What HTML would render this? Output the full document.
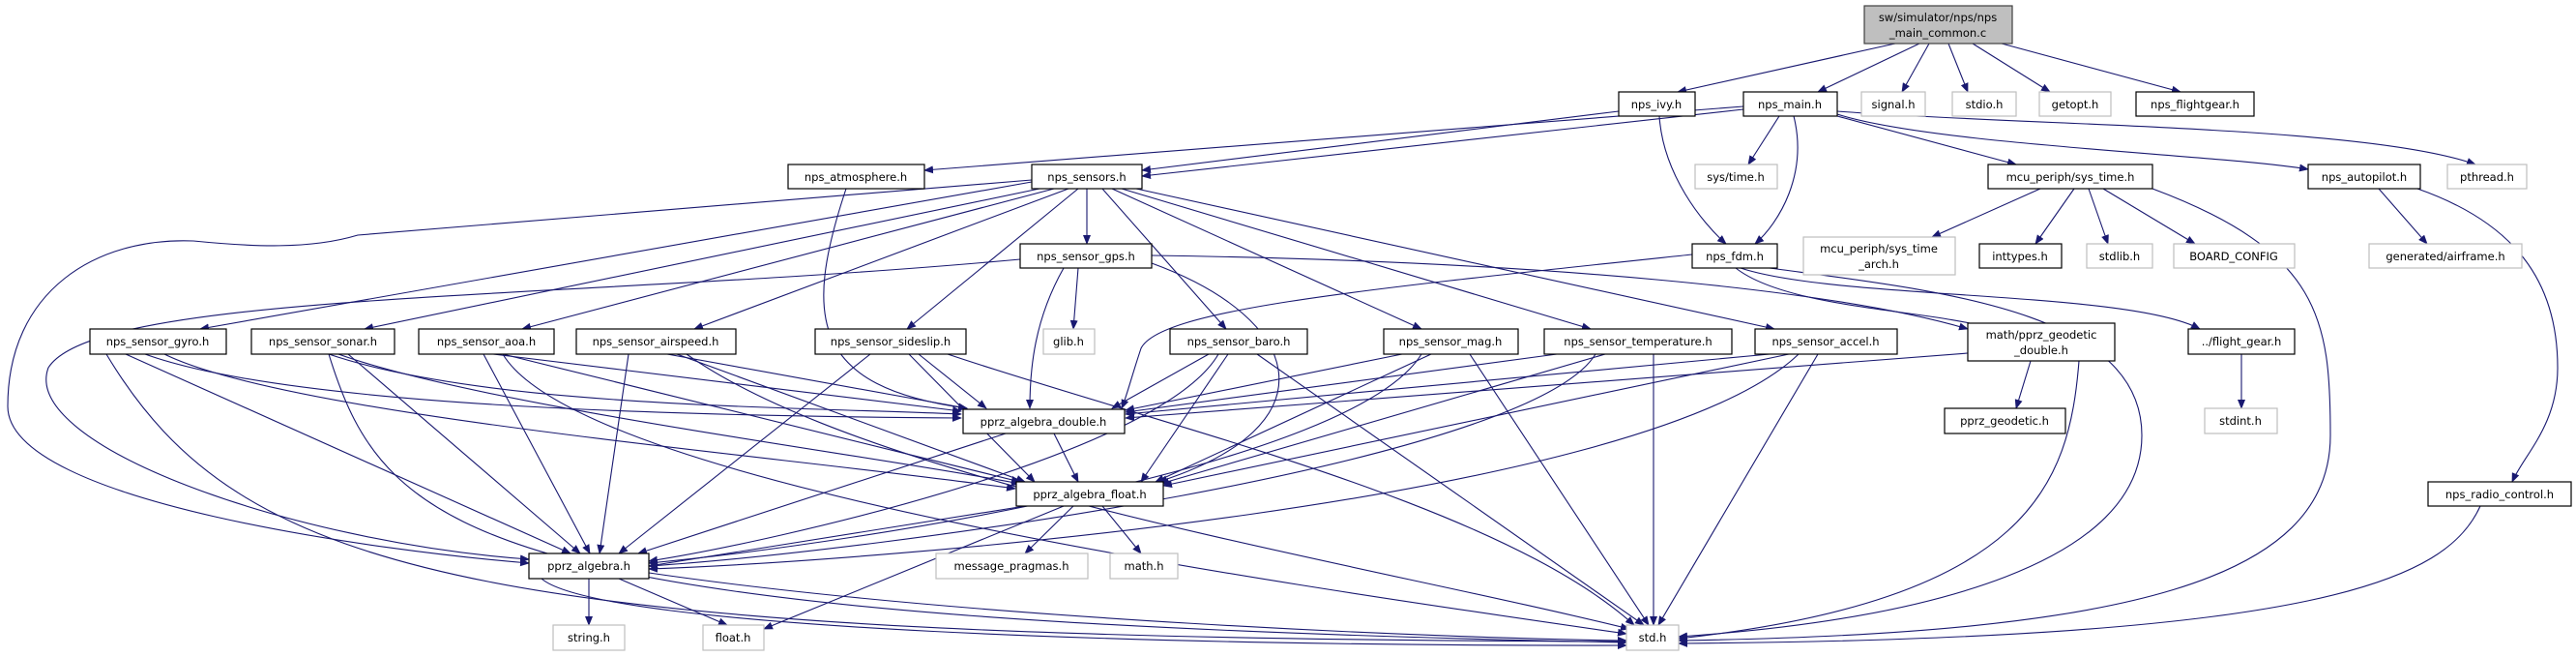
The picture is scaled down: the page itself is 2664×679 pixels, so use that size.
<!DOCTYPE html>
<html><head><meta charset="utf-8"><style>
html,body{margin:0;padding:0;background:#fff;}
svg{display:block;}
text{font-family:"DejaVu Sans","Liberation Sans",sans-serif;font-size:11.5px;fill:#000;}
.n{fill:#fff;stroke:#000;stroke-width:1.2;}
.g{fill:#fff;stroke:#bfbfbf;stroke-width:1.2;}
.r{fill:#bfbfbf;stroke:#404040;stroke-width:1.2;}
.e path{fill:none;stroke:#191970;stroke-width:1.1;}
</style></head><body>
<svg width="2664" height="679" viewBox="0 0 2664 679" xmlns="http://www.w3.org/2000/svg">
<defs><marker id="a" markerWidth="10" markerHeight="8" refX="9" refY="4" orient="auto" markerUnits="userSpaceOnUse"><path d="M0,0 L10,4 L0,8 z" fill="#191970"/></marker></defs>
<g class="e" marker-end="url(#a)">
<path d="M1960,45 L1735,95" marker-end="url(#a)"/>
<path d="M1985,45 L1880,95" marker-end="url(#a)"/>
<path d="M1995,45 L1967,95" marker-end="url(#a)"/>
<path d="M2015,45 L2035,95" marker-end="url(#a)"/>
<path d="M2040,45 L2120,95" marker-end="url(#a)"/>
<path d="M2070,45 L2255,95" marker-end="url(#a)"/>
<path d="M1674,115 L1181,176" marker-end="url(#a)"/>
<path d="M1716,120 C1720,180 1760,230 1785,252" marker-end="url(#a)"/>
<path d="M1803,110 L956,176" marker-end="url(#a)"/>
<path d="M1803,113 L1181,182" marker-end="url(#a)"/>
<path d="M1840,120 L1808,170" marker-end="url(#a)"/>
<path d="M1855,120 C1870,180 1840,230 1815,252" marker-end="url(#a)"/>
<path d="M1900,120 L2085,170" marker-end="url(#a)"/>
<path d="M1900,118 C2000,150 2300,160 2387,175" marker-end="url(#a)"/>
<path d="M1900,115 C2100,130 2450,130 2560,170" marker-end="url(#a)"/>
<path d="M875,195 C830,330 840,400 1000,422" marker-end="url(#a)"/>
<path d="M1124,195 L1124,252" marker-end="url(#a)"/>
<path d="M1067,188 L207,340" marker-end="url(#a)"/>
<path d="M1075,195 L377,340" marker-end="url(#a)"/>
<path d="M1090,195 L540,340" marker-end="url(#a)"/>
<path d="M1105,195 L718,340" marker-end="url(#a)"/>
<path d="M1115,195 L938,340" marker-end="url(#a)"/>
<path d="M1140,195 L1268,340" marker-end="url(#a)"/>
<path d="M1150,195 L1470,340" marker-end="url(#a)"/>
<path d="M1160,195 L1645,340" marker-end="url(#a)"/>
<path d="M1175,195 L1835,340" marker-end="url(#a)"/>
<path d="M1067,186 L370,243 C320,258 260,255 200,249 C100,245 8,300 8,420 C8,520 400,570 547,582" marker-end="url(#a)"/>
<path d="M1055,268 C600,310 100,300 50,380 C20,460 300,560 547,578" marker-end="url(#a)"/>
<path d="M1115,277 L1110,340" marker-end="url(#a)"/>
<path d="M1100,277 C1070,330 1065,380 1065,422" marker-end="url(#a)"/>
<path d="M1191,272 C1350,330 1380,440 1198,498" marker-end="url(#a)"/>
<path d="M1191,264 C1600,270 1900,300 2035,340" marker-end="url(#a)"/>
<path d="M1750,263 C1400,300 1200,320 1180,360 C1170,390 1165,410 1160,422" marker-end="url(#a)"/>
<path d="M1795,277 C1850,320 2000,320 2060,340" marker-end="url(#a)"/>
<path d="M1800,277 C1900,310 2200,300 2275,340" marker-end="url(#a)"/>
<path d="M1830,277 C2000,300 2215,320 2215,450 C2215,580 2000,640 1736,658" marker-end="url(#a)"/>
<path d="M2110,195 L1998,245" marker-end="url(#a)"/>
<path d="M2145,195 L2105,252" marker-end="url(#a)"/>
<path d="M2160,195 L2180,252" marker-end="url(#a)"/>
<path d="M2175,195 L2270,252" marker-end="url(#a)"/>
<path d="M2226,195 C2400,260 2410,330 2410,450 C2410,600 2200,655 1736,662" marker-end="url(#a)"/>
<path d="M2460,195 L2510,252" marker-end="url(#a)"/>
<path d="M2500,195 C2600,230 2645,290 2645,380 C2645,440 2610,470 2598,498" marker-end="url(#a)"/>
<path d="M2565,523 C2530,600 2400,660 1736,665" marker-end="url(#a)"/>
<path d="M2100,373 L2085,422" marker-end="url(#a)"/>
<path d="M2035,365 L1164,432" marker-end="url(#a)"/>
<path d="M2150,373 C2140,500 2100,620 1736,660" marker-end="url(#a)"/>
<path d="M2318,366 L2318,422" marker-end="url(#a)"/>
<path d="M150,366 C300,420 700,430 994,432" marker-end="url(#a)"/>
<path d="M170,366 C300,430 800,470 1050,505" marker-end="url(#a)"/>
<path d="M130,366 L590,572" marker-end="url(#a)"/>
<path d="M110,366 C250,600 500,660 1682,663" marker-end="url(#a)"/>
<path d="M340,366 C500,420 800,420 994,428" marker-end="url(#a)"/>
<path d="M350,366 C500,420 900,470 1055,500" marker-end="url(#a)"/>
<path d="M360,366 L600,572" marker-end="url(#a)"/>
<path d="M340,366 C400,560 500,640 1682,664" marker-end="url(#a)"/>
<path d="M510,366 L994,425" marker-end="url(#a)"/>
<path d="M520,366 L1055,498" marker-end="url(#a)"/>
<path d="M500,366 L610,572" marker-end="url(#a)"/>
<path d="M520,366 C600,500 1300,600 1682,655" marker-end="url(#a)"/>
<path d="M690,366 L1000,422" marker-end="url(#a)"/>
<path d="M700,366 L1060,498" marker-end="url(#a)"/>
<path d="M650,366 L620,572" marker-end="url(#a)"/>
<path d="M710,366 C900,500 1400,580 1685,650" marker-end="url(#a)"/>
<path d="M950,366 L1020,422" marker-end="url(#a)"/>
<path d="M940,366 L1070,498" marker-end="url(#a)"/>
<path d="M900,366 L640,572" marker-end="url(#a)"/>
<path d="M980,366 C1200,440 1550,520 1690,646" marker-end="url(#a)"/>
<path d="M1250,366 L1150,422" marker-end="url(#a)"/>
<path d="M1270,366 L1180,498" marker-end="url(#a)"/>
<path d="M1260,366 C1200,470 800,560 671,580" marker-end="url(#a)"/>
<path d="M1300,366 L1700,646" marker-end="url(#a)"/>
<path d="M1450,366 L1164,424" marker-end="url(#a)"/>
<path d="M1480,366 L1195,498" marker-end="url(#a)"/>
<path d="M1470,366 C1400,480 900,560 671,582" marker-end="url(#a)"/>
<path d="M1520,366 L1705,646" marker-end="url(#a)"/>
<path d="M1610,366 L1164,426" marker-end="url(#a)"/>
<path d="M1660,366 L1200,500" marker-end="url(#a)"/>
<path d="M1650,366 C1580,480 900,570 671,585" marker-end="url(#a)"/>
<path d="M1710,366 L1710,646" marker-end="url(#a)"/>
<path d="M1830,366 L1164,428" marker-end="url(#a)"/>
<path d="M1850,366 L1203,502" marker-end="url(#a)"/>
<path d="M1860,366 C1700,520 900,580 671,588" marker-end="url(#a)"/>
<path d="M1880,366 L1715,646" marker-end="url(#a)"/>
<path d="M1090,448 L1115,498" marker-end="url(#a)"/>
<path d="M1040,448 L660,572" marker-end="url(#a)"/>
<path d="M1060,523 L671,585" marker-end="url(#a)"/>
<path d="M1110,523 L1060,572" marker-end="url(#a)"/>
<path d="M1140,523 L1180,572" marker-end="url(#a)"/>
<path d="M1100,523 L790,650" marker-end="url(#a)"/>
<path d="M609,598 L609,646" marker-end="url(#a)"/>
<path d="M640,598 L752,646" marker-end="url(#a)"/>
<path d="M671,592 C1000,640 1500,660 1682,662" marker-end="url(#a)"/>
<path d="M560,598 C620,650 1200,668 1682,667" marker-end="url(#a)"/>
</g>
<g>
<rect class="r" x="1928" y="6" width="153" height="39"/><text x="2004" y="22" text-anchor="middle">sw/simulator/nps/nps</text><text x="2004" y="38" text-anchor="middle">_main_common.c</text>
<rect class="n" x="1674" y="95" width="79" height="25"/><text x="1713" y="112" text-anchor="middle">nps_ivy.h</text>
<rect class="n" x="1803" y="95" width="97" height="25"/><text x="1851" y="112" text-anchor="middle">nps_main.h</text>
<rect class="g" x="1925" y="95" width="66" height="25"/><text x="1958" y="112" text-anchor="middle">signal.h</text>
<rect class="g" x="2019" y="95" width="66" height="25"/><text x="2052" y="112" text-anchor="middle">stdio.h</text>
<rect class="g" x="2109" y="95" width="74" height="25"/><text x="2146" y="112" text-anchor="middle">getopt.h</text>
<rect class="n" x="2209" y="95" width="122" height="25"/><text x="2270" y="112" text-anchor="middle">nps_flightgear.h</text>
<rect class="n" x="815" y="170" width="141" height="25"/><text x="885" y="187" text-anchor="middle">nps_atmosphere.h</text>
<rect class="n" x="1067" y="170" width="114" height="25"/><text x="1124" y="187" text-anchor="middle">nps_sensors.h</text>
<rect class="g" x="1753" y="170" width="85" height="25"/><text x="1795" y="187" text-anchor="middle">sys/time.h</text>
<rect class="n" x="2056" y="170" width="170" height="25"/><text x="2141" y="187" text-anchor="middle">mcu_periph/sys_time.h</text>
<rect class="n" x="2387" y="170" width="116" height="25"/><text x="2445" y="187" text-anchor="middle">nps_autopilot.h</text>
<rect class="g" x="2531" y="170" width="82" height="25"/><text x="2572" y="187" text-anchor="middle">pthread.h</text>
<rect class="n" x="1055" y="252" width="136" height="25"/><text x="1123" y="269" text-anchor="middle">nps_sensor_gps.h</text>
<rect class="n" x="1750" y="252" width="88" height="25"/><text x="1794" y="269" text-anchor="middle">nps_fdm.h</text>
<rect class="g" x="1865" y="245" width="157" height="39"/><text x="1943" y="261" text-anchor="middle">mcu_periph/sys_time</text><text x="1943" y="277" text-anchor="middle">_arch.h</text>
<rect class="n" x="2047" y="252" width="85" height="25"/><text x="2089" y="269" text-anchor="middle">inttypes.h</text>
<rect class="g" x="2158" y="252" width="68" height="25"/><text x="2192" y="269" text-anchor="middle">stdlib.h</text>
<rect class="g" x="2248" y="252" width="125" height="25"/><text x="2310" y="269" text-anchor="middle">BOARD_CONFIG</text>
<rect class="g" x="2450" y="252" width="158" height="25"/><text x="2529" y="269" text-anchor="middle">generated/airframe.h</text>
<rect class="n" x="93" y="340" width="141" height="26"/><text x="163" y="357" text-anchor="middle">nps_sensor_gyro.h</text>
<rect class="n" x="260" y="340" width="148" height="26"/><text x="334" y="357" text-anchor="middle">nps_sensor_sonar.h</text>
<rect class="n" x="433" y="340" width="140" height="26"/><text x="503" y="357" text-anchor="middle">nps_sensor_aoa.h</text>
<rect class="n" x="596" y="340" width="165" height="26"/><text x="678" y="357" text-anchor="middle">nps_sensor_airspeed.h</text>
<rect class="n" x="843" y="340" width="156" height="26"/><text x="921" y="357" text-anchor="middle">nps_sensor_sideslip.h</text>
<rect class="g" x="1079" y="340" width="53" height="26"/><text x="1105" y="357" text-anchor="middle">glib.h</text>
<rect class="n" x="1210" y="340" width="142" height="26"/><text x="1281" y="357" text-anchor="middle">nps_sensor_baro.h</text>
<rect class="n" x="1431" y="340" width="139" height="26"/><text x="1500" y="357" text-anchor="middle">nps_sensor_mag.h</text>
<rect class="n" x="1597" y="340" width="194" height="26"/><text x="1694" y="357" text-anchor="middle">nps_sensor_temperature.h</text>
<rect class="n" x="1815" y="340" width="147" height="26"/><text x="1888" y="357" text-anchor="middle">nps_sensor_accel.h</text>
<rect class="n" x="2035" y="334" width="152" height="39"/><text x="2111" y="350" text-anchor="middle">math/pprz_geodetic</text><text x="2111" y="366" text-anchor="middle">_double.h</text>
<rect class="n" x="2263" y="340" width="110" height="26"/><text x="2318" y="357" text-anchor="middle">../flight_gear.h</text>
<rect class="n" x="996" y="423" width="167" height="25"/><text x="1079" y="440" text-anchor="middle">pprz_algebra_double.h</text>
<rect class="n" x="2011" y="422" width="125" height="26"/><text x="2073" y="439" text-anchor="middle">pprz_geodetic.h</text>
<rect class="g" x="2280" y="422" width="75" height="26"/><text x="2317" y="439" text-anchor="middle">stdint.h</text>
<rect class="n" x="1051" y="498" width="152" height="25"/><text x="1127" y="515" text-anchor="middle">pprz_algebra_float.h</text>
<rect class="n" x="2511" y="498" width="148" height="25"/><text x="2585" y="515" text-anchor="middle">nps_radio_control.h</text>
<rect class="n" x="547" y="572" width="124" height="26"/><text x="609" y="589" text-anchor="middle">pprz_algebra.h</text>
<rect class="g" x="968" y="572" width="157" height="26"/><text x="1046" y="589" text-anchor="middle">message_pragmas.h</text>
<rect class="g" x="1148" y="572" width="70" height="26"/><text x="1183" y="589" text-anchor="middle">math.h</text>
<rect class="g" x="572" y="646" width="74" height="26"/><text x="609" y="663" text-anchor="middle">string.h</text>
<rect class="g" x="727" y="646" width="63" height="26"/><text x="758" y="663" text-anchor="middle">float.h</text>
<rect class="g" x="1682" y="646" width="54" height="26"/><text x="1709" y="663" text-anchor="middle">std.h</text>
</g>
</svg>
</body></html>
